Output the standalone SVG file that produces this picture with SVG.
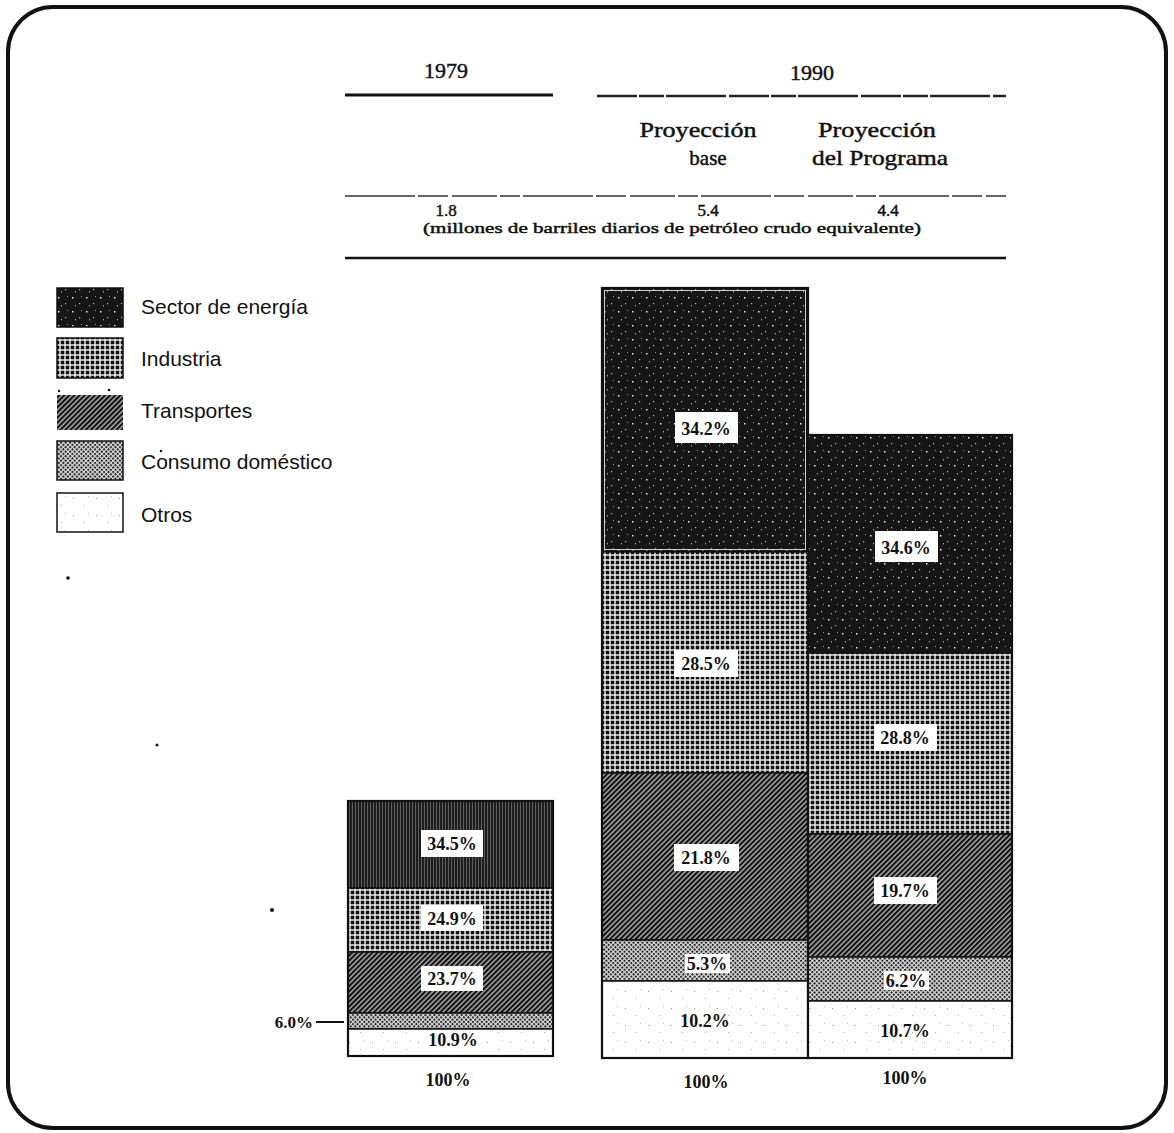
<svg xmlns="http://www.w3.org/2000/svg" width="1174" height="1133" viewBox="0 0 1174 1133">
<style>
.hd{font-family:"Liberation Serif",serif;fill:#111;stroke:#111;stroke-width:0.45;text-anchor:middle}
.lg{font-family:"Liberation Sans","Open Sans",sans-serif;font-size:21px;fill:#111}
.pc{font-family:"Liberation Serif",serif;font-size:18px;font-weight:bold;fill:#111;text-anchor:middle}
.bx{fill:#fff}
.seg{stroke:#111;stroke-width:1.5}
.out{fill:none;stroke:#111;stroke-width:2.2}
</style>
<defs>
<pattern id="pEnergy" width="14" height="14" patternUnits="userSpaceOnUse">
<rect width="14" height="14" fill="#161616"/>
<rect x="2" y="3" width="1.5" height="1.5" fill="#eee"/>
<rect x="9" y="9" width="1.2" height="1.2" fill="#bbb"/>
<rect x="11" y="2" width="1" height="1" fill="#999"/>
<rect x="5" y="11" width="1" height="1.4" fill="#aaa"/>
</pattern>
<pattern id="pEnergy79" width="3" height="3" patternUnits="userSpaceOnUse">
<rect width="3" height="3" fill="#1e1e1e"/>
<rect x="1" y="0" width="0.7" height="3" fill="#777"/>
</pattern>
<pattern id="pInd" width="5" height="5" patternUnits="userSpaceOnUse">
<rect width="5" height="5" fill="#f4f4f4"/>
<rect x="0.7" y="0.7" width="3.6" height="3.6" fill="#111"/>
</pattern>
<pattern id="pTrans" width="3.6" height="3.6" patternUnits="userSpaceOnUse" patternTransform="rotate(45)">
<rect width="3.6" height="3.6" fill="#aaa"/>
<rect x="0" y="0" width="2.1" height="3.6" fill="#111"/>
</pattern>
<pattern id="pCons" width="3.2" height="3.2" patternUnits="userSpaceOnUse" patternTransform="rotate(45)">
<rect width="3.2" height="3.2" fill="#ddd"/>
<rect x="0" y="0" width="2" height="2" fill="#222"/>
</pattern>
<pattern id="pOtros" width="23" height="17" patternUnits="userSpaceOnUse">
<rect width="23" height="17" fill="#fff"/>
<rect x="4" y="5" width="1" height="1" fill="#999"/>
<rect x="15" y="12" width="1" height="1" fill="#aaa"/>
<rect x="19" y="3" width="1" height="1" fill="#bbb"/>
</pattern>
</defs>
<rect x="0" y="0" width="1174" height="1133" fill="#fff"/>
<rect x="8" y="7" width="1158" height="1121" rx="45" ry="45" fill="none" stroke="#111" stroke-width="4"/>

<g id="header">
<text class="hd" x="446" y="78" font-size="22">1979</text>
<text class="hd" x="812" y="80" font-size="22">1990</text>
<line x1="345" y1="95" x2="553" y2="95" stroke="#111" stroke-width="3"/>
<line x1="597" y1="96" x2="1006" y2="96" stroke="#222" stroke-width="2.5" stroke-dasharray="40 2 25 2 60 3"/>
<text class="hd" x="698" y="137" font-size="21" textLength="117" lengthAdjust="spacingAndGlyphs">Proyección</text>
<text class="hd" x="708" y="165" font-size="21">base</text>
<text class="hd" x="877" y="137" font-size="21" textLength="118" lengthAdjust="spacingAndGlyphs">Proyección</text>
<text class="hd" x="880" y="165" font-size="21" textLength="136" lengthAdjust="spacingAndGlyphs">del Programa</text>
<line x1="345" y1="196" x2="1006" y2="196" stroke="#333" stroke-width="1.6" stroke-dasharray="70 3 30 4 45 3 20 3"/>
<text class="hd" x="446" y="216" font-size="17">1.8</text>
<text class="hd" x="708" y="216" font-size="17">5.4</text>
<text class="hd" x="888" y="216" font-size="17">4.4</text>
<text class="hd" x="672" y="233" font-size="15" textLength="498" lengthAdjust="spacingAndGlyphs">(millones de barriles diarios de petróleo crudo equivalente)</text>
<line x1="345" y1="258" x2="1006" y2="258" stroke="#111" stroke-width="2.5"/>
</g>

<g id="legend">
<g id="leg-energia"><rect x="57" y="288" width="66" height="39" fill="url(#pEnergy)" class="seg"/><text class="lg" x="141" y="314">Sector de energía</text></g>
<g id="leg-industria"><rect x="57" y="338" width="66" height="40" fill="url(#pInd)" class="seg"/><text class="lg" x="141" y="366">Industria</text></g>
<g id="leg-transportes"><rect x="57" y="395" width="66" height="35" fill="url(#pTrans)"/><circle cx="59" cy="391" r="1.2" fill="#111"/><circle cx="109" cy="390" r="1.3" fill="#111"/><text class="lg" x="141" y="418">Transportes</text></g>
<g id="leg-consumo"><rect x="57" y="441" width="66" height="39" fill="url(#pCons)" class="seg"/><circle cx="161" cy="451" r="1.2" fill="#111"/><text class="lg" x="141" y="469">Consumo doméstico</text></g>
<g id="leg-otros"><rect x="57" y="493" width="66" height="39" fill="url(#pOtros)" class="seg"/><text class="lg" x="141" y="522">Otros</text></g>
</g>

<g id="specks">
<circle cx="68" cy="578" r="1.8" fill="#111"/>
<circle cx="157" cy="745" r="1.5" fill="#111"/>
<circle cx="272" cy="910" r="2" fill="#111"/>
</g>

<g id="bar-1979">
<rect x="348" y="801" width="205" height="87" fill="url(#pEnergy79)" class="seg"/>
<rect x="348" y="888" width="205" height="64" fill="url(#pInd)" class="seg"/>
<rect x="348" y="952" width="205" height="61" fill="url(#pTrans)" class="seg"/>
<rect x="348" y="1013" width="205" height="16" fill="url(#pCons)" class="seg"/>
<rect x="348" y="1029" width="205" height="27" fill="url(#pOtros)" class="seg"/>
<rect x="348" y="801" width="205" height="255" class="out"/>
<rect class="bx" x="421" y="830" width="62" height="27"/><text class="pc" x="452" y="850">34.5%</text>
<rect class="bx" x="421" y="905" width="62" height="26"/><text class="pc" x="452" y="925">24.9%</text>
<rect class="bx" x="421" y="966" width="62" height="25"/><text class="pc" x="452" y="985">23.7%</text>
<rect class="bx" x="424" y="1031" width="58" height="21"/><text class="pc" x="453" y="1046">10.9%</text>
<text class="pc" x="448" y="1086" font-size="17">100%</text>
</g>

<g id="bar-base">
<rect x="602" y="288" width="206" height="264" fill="url(#pEnergy)" class="seg"/>
<rect x="604.5" y="290.5" width="201" height="259" fill="none" stroke="#ccc" stroke-width="1"/>
<rect x="602" y="552" width="206" height="221" fill="url(#pInd)" class="seg"/>
<rect x="602" y="773" width="206" height="167" fill="url(#pTrans)" class="seg"/>
<rect x="602" y="940" width="206" height="41" fill="url(#pCons)" class="seg"/>
<rect x="602" y="981" width="206" height="77" fill="url(#pOtros)" class="seg"/>
<rect x="602" y="288" width="206" height="770" class="out"/>
<rect class="bx" x="675" y="412" width="63" height="31"/><text class="pc" x="706" y="435">34.2%</text>
<rect class="bx" x="674" y="650" width="64" height="27"/><text class="pc" x="706" y="670">28.5%</text>
<rect class="bx" x="674" y="844" width="65" height="27"/><text class="pc" x="706" y="864">21.8%</text>
<rect class="bx" x="685" y="954" width="45" height="19"/><text class="pc" x="707" y="970">5.3%</text>
<text class="pc" x="705" y="1027">10.2%</text>
<text class="pc" x="706" y="1088" font-size="17">100%</text>
</g>

<g id="bar-programa">
<rect x="808" y="435" width="204" height="218" fill="url(#pEnergy)" class="seg"/>
<rect x="808" y="653" width="204" height="181" fill="url(#pInd)" class="seg"/>
<rect x="808" y="834" width="204" height="123" fill="url(#pTrans)" class="seg"/>
<rect x="808" y="957" width="204" height="44" fill="url(#pCons)" class="seg"/>
<rect x="808" y="1001" width="204" height="57" fill="url(#pOtros)" class="seg"/>
<rect x="808" y="435" width="204" height="623" class="out"/>
<rect class="bx" x="875" y="531" width="63" height="31"/><text class="pc" x="906" y="554">34.6%</text>
<rect class="bx" x="874" y="724" width="63" height="27"/><text class="pc" x="905" y="744">28.8%</text>
<rect class="bx" x="874" y="877" width="63" height="27"/><text class="pc" x="905" y="897">19.7%</text>
<rect class="bx" x="884" y="971" width="45" height="19"/><text class="pc" x="906" y="987">6.2%</text>
<text class="pc" x="905" y="1037">10.7%</text>
<text class="pc" x="905" y="1084" font-size="17">100%</text>
</g>

<g id="connectors">
<line x1="316" y1="1022" x2="344" y2="1022" stroke="#111" stroke-width="2"/>
</g>
<g id="label-6">
<text x="313" y="1028" font-family="Liberation Serif, serif" font-size="17" font-weight="bold" fill="#111" text-anchor="end">6.0%</text>
</g>
</svg>
